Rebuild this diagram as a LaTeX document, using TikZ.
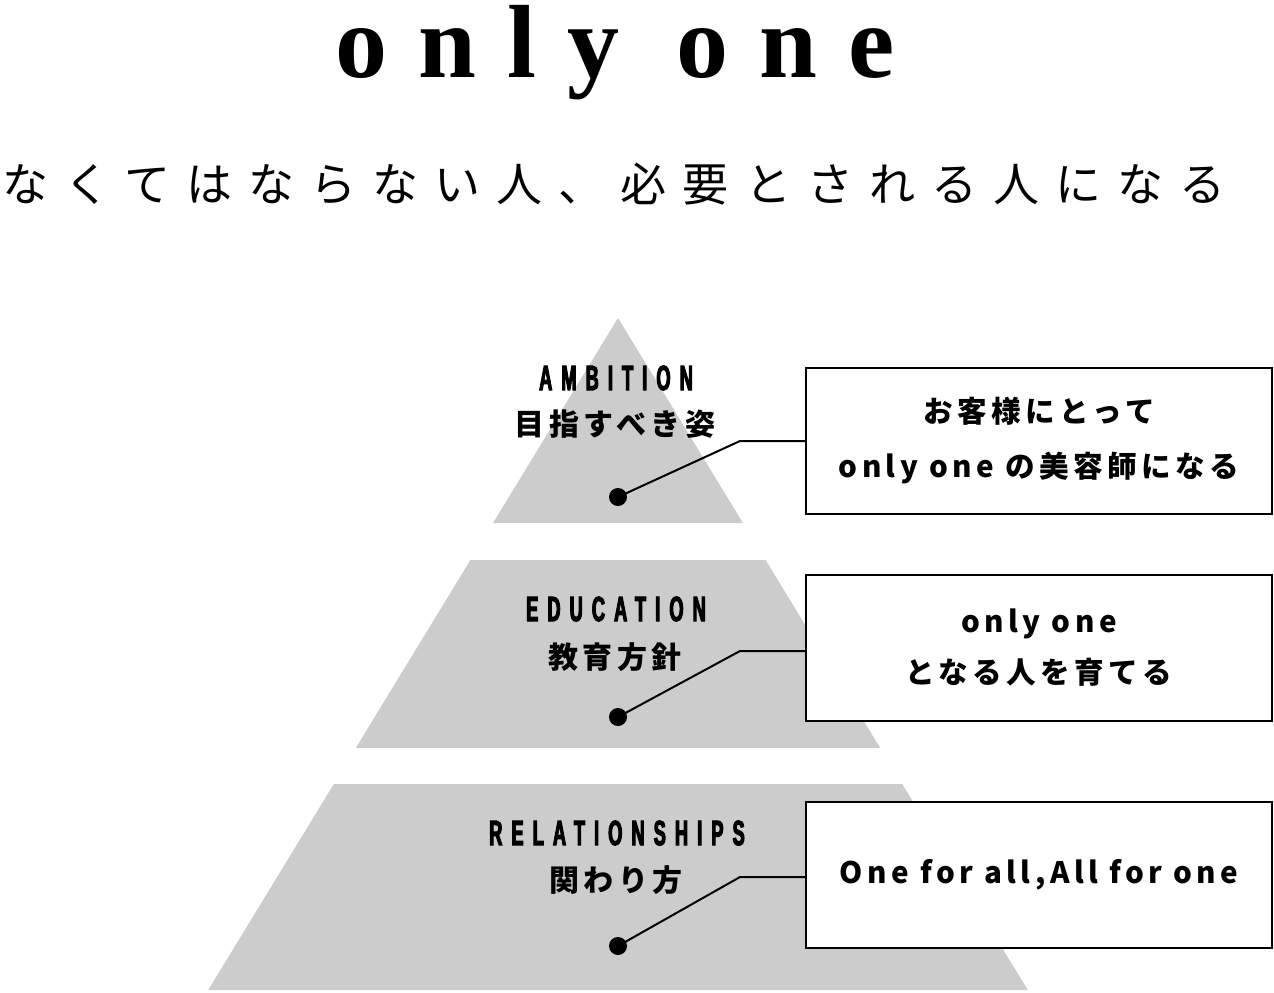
\documentclass[tikz,border=0pt]{standalone}
\usepackage{fontspec}
\setmainfont{Liberation Serif}
\newfontfamily\titlefont[LetterSpace=30]{Liberation Serif}
\newfontfamily\subfont[LetterSpace=35]{Noto Sans CJK JP}
\newfontfamily\tagfont[FakeStretch=0.52,FakeBold=3,LetterSpace=26]{Liberation Sans}
\newfontfamily\tagjpfont[LetterSpace=15]{Noto Sans CJK JP}
\newfontfamily\boxfont[LetterSpace=15]{Noto Sans CJK JP}
\usetikzlibrary{calc}

\begin{document}
\begin{tikzpicture}[x=0.5pt, y=-0.5pt,
	layer/.style={fill=black!20, draw=none},
	tagen/.style={inner sep=0pt, font=\tagfont\bfseries\fontsize{17.5}{18}\selectfont},
	tagjp/.style={inner sep=0pt, font=\tagjpfont\bfseries\fontsize{15}{18}\selectfont},
	dot/.style={circle, fill=black, inner sep=0pt, minimum size=9pt},
	goalbox/.style={draw=black, line width=1pt, fill=white, minimum width=233pt, minimum height=73pt, inner sep=0pt, align=center, font=\boxfont\bfseries\fontsize{14.8}{27.5}\selectfont},
	lead/.style={line width=1pt, draw=black}]
			%%%%% START %%%%%
			\useasboundingbox (0, 0) rectangle (1274, 992);
			
			% title
			\node[inner sep=0pt, anchor=base, font=\titlefont\bfseries\fontsize{52}{60}\selectfont] (title) at (615, 77) {only one};
			\node[inner sep=0pt, font=\subfont\fontsize{23}{26}\selectfont] (subtitle) at (614, 184) {なくてはならない人、必要とされる人になる};
			
			% pyramid
			\draw[layer] (618, 318) -- (743, 523) -- (493, 523) -- cycle;
			\draw[layer] (470.4, 560) -- (765.6, 560) -- (880.2, 748) -- (355.8, 748) -- cycle;
			\draw[layer] (333.8, 784) -- (902.2, 784) -- (1027.8, 990) -- (208.2, 990) -- cycle;
			
			% labels
			\node[tagen] (ambition) at (616, 378) {AMBITION};
			\node[tagjp] (ambitionjp) at (615, 424) {目指すべき姿};
			\node[tagen] (education) at (616, 609) {EDUCATION};
			\node[tagjp] (educationjp) at (615, 657) {教育方針};
			\node[tagen] (relations) at (617, 833) {RELATIONSHIPS};
			\node[tagjp] (relationsjp) at (616, 880) {関わり方};
			
			% boxes
			\node[goalbox] (goalA) at (1039, 441) {お客様にとって\\only one の美容師になる};
			\node[goalbox] (goalB) at (1039, 647.5) {only one\\[-2pt]となる人を育てる};
			\node[goalbox] (goalC) at (1039, 874.5) {One for all,All for one};
			
			% dots and leads
			\node[dot] (dotA) at (618, 497) {};
			\node[dot] (dotB) at (618, 717) {};
			\node[dot] (dotC) at (618, 946) {};
			
			\coordinate (kinkA) at (740, 441);
			\coordinate (kinkB) at (740, 651);
			\coordinate (kinkC) at (740, 877);
			
			\draw[lead] (dotA.center) -- (kinkA) -- (goalA.west |- kinkA);
			\draw[lead] (dotB.center) -- (kinkB) -- (goalB.west |- kinkB);
			\draw[lead] (dotC.center) -- (kinkC) -- (goalC.west |- kinkC);
			
			%%%%% END %%%%%
\end{tikzpicture}
\end{document}
